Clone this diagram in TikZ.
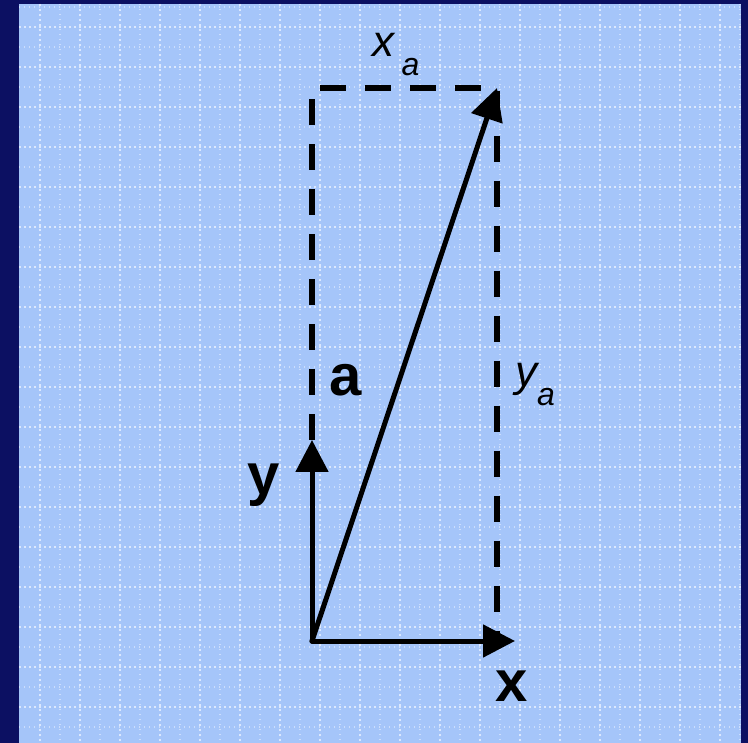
\documentclass[tikz,border=0pt]{standalone}
\usepackage{fontspec}
\setmainfont{Liberation Sans}
\usetikzlibrary{arrows.meta,positioning,calc}
\definecolor{navy}{HTML}{0C1062}
\definecolor{panel}{HTML}{A5C5F9}
\definecolor{gridw}{HTML}{DCE8FD}
\newcommand{\subidx}[1]{\raisebox{-19pt}{\fontsize{32}{34}\selectfont #1}}
\tikzset{vec/.style={-{Triangle[length=32pt,width=32pt]},draw=black,line width=5pt,line cap=round},proj/.style={draw=black,line width=5.5pt,dash pattern=on 26pt off 19pt},bold/.style={font=\bfseries\fontsize{58}{60}\selectfont,inner sep=0pt},comp/.style={font=\itshape\fontsize{44}{46}\selectfont,inner sep=0pt,anchor=base west},gridmaj/.style={draw=gridw,line width=1.6pt,dash pattern=on 1.6pt off 3.4pt},gridmin/.style={draw=gridw!70!panel,line width=1.2pt,dash pattern=on 1.2pt off 3.8pt}}

\begin{document}
\begin{tikzpicture}[x=1pt,y=-1pt]
\useasboundingbox (0,0) rectangle (748,743);
\fill[navy] (0,0) rectangle (748,743);
\fill[panel] (19,4) rectangle (741,743);
% grid
\foreach \gx in {60,100,...,740} \draw[gridmin] (\gx,4)--(\gx,743);
\foreach \gy in {7,47,...,743} \draw[gridmin] (19,\gy)--(741,\gy);
\foreach \gx in {40,80,...,740} \draw[gridmaj] (\gx,4)--(\gx,743);
\foreach \gy in {27,67,...,743} \draw[gridmaj] (19,\gy)--(741,\gy);

\coordinate (O) at (312,641);
\coordinate (xtip) at (515,641);
\coordinate (ytip) at (312,440);
\coordinate (atip) at (497,88);
\coordinate (corner) at (312,88);
\coordinate (foot) at (497,641);

\draw[proj] (ytip)--(corner)--(atip)--(foot);
\draw[vec] (O)--(xtip);
\draw[vec] (O)--(ytip);
\draw[vec] (O)--(atip);

\node[comp] (xa) at (372,57) {x\,\subidx{a}};
\node[comp] (ya) at (515,387) {y\subidx{a}};
\node[bold] (alab) at (346,380) {a};
\node[bold] (ylab) at (264,485) {y};
\node[bold] (xlab) at (512,686) {x};
\end{tikzpicture}
\end{document}
